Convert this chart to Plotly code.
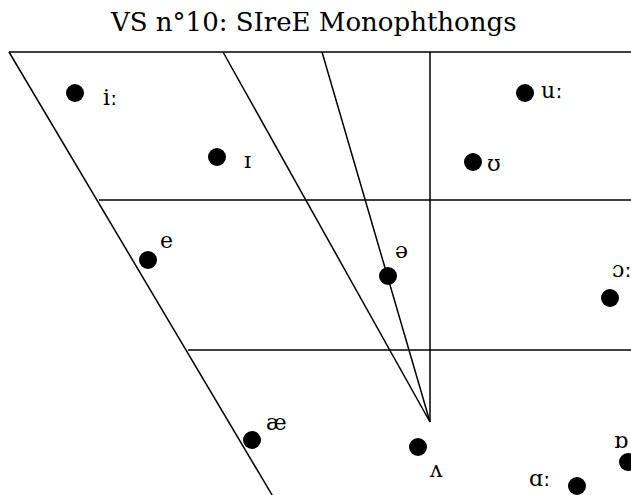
import plotly.graph_objects as go

# ---- data (chart units: horizontal position, vertical position; vertical grows downward) ----
vowels = ["iː", "ɪ", "ʊ", "uː", "e", "ə", "ɔː", "æ", "ʌ", "ɑː", "ɒ"]
vowel_x = [75, 217, 473, 525, 148, 388, 610, 252, 418, 577, 628]
vowel_y = [93, 157, 162, 93, 260, 276, 298, 440, 447, 486, 462]

# label offsets (pixels) relative to each point
label_dx = [35, 30, 21, 27, 18, 13, 12, 24, 18, -37, -7]
label_dy = [4, 3, 1, -3, -20, -26, -29, -18, 22, -8, -22]

# vowel-trapezoid guide lines: (x0, y0, x1, y1)
guide_x0 = [9, 99, 188, 430, 9, 223, 322]
guide_y0 = [52, 200, 350, 52, 52, 52, 52]
guide_x1 = [645, 645, 645, 430, 278, 430, 430]
guide_y1 = [52, 200, 350, 422, 505, 422, 422]

title_text = "VS n°10: SIreE Monophthongs"

fig = go.Figure()

for x0, y0, x1, y1 in zip(guide_x0, guide_y0, guide_x1, guide_y1):
    fig.add_trace(go.Scatter(x=[x0, x1], y=[y0, y1], mode="lines",
                             line=dict(color="black", width=1.5),
                             hoverinfo="skip", showlegend=False))

fig.add_trace(go.Scatter(x=vowel_x, y=vowel_y, mode="markers",
                         marker=dict(color="black", size=18),
                         hoverinfo="skip", showlegend=False))

for v, x, y, dx, dy in zip(vowels, vowel_x, vowel_y, label_dx, label_dy):
    fig.add_annotation(x=x, y=y, text=v, showarrow=False, xshift=dx, yshift=-dy,
                       font=dict(family="DejaVu Serif", size=22, color="black"))

fig.add_annotation(x=313, y=22, text=title_text, showarrow=False,
                   font=dict(family="DejaVu Serif", size=26, color="black"))

W, H = 631, 495
fig.update_xaxes(range=[0, W], visible=False, showgrid=False, zeroline=False)
fig.update_yaxes(range=[H, 0], visible=False, showgrid=False, zeroline=False)
fig.update_layout(width=W, height=H, margin=dict(l=0, r=0, t=0, b=0),
                  plot_bgcolor="white", paper_bgcolor="white")

fig.write_html("out.html", config={"displayModeBar": False},
               post_script="document.body.style.margin='0';"
                           "document.body.style.overflow='hidden';")
